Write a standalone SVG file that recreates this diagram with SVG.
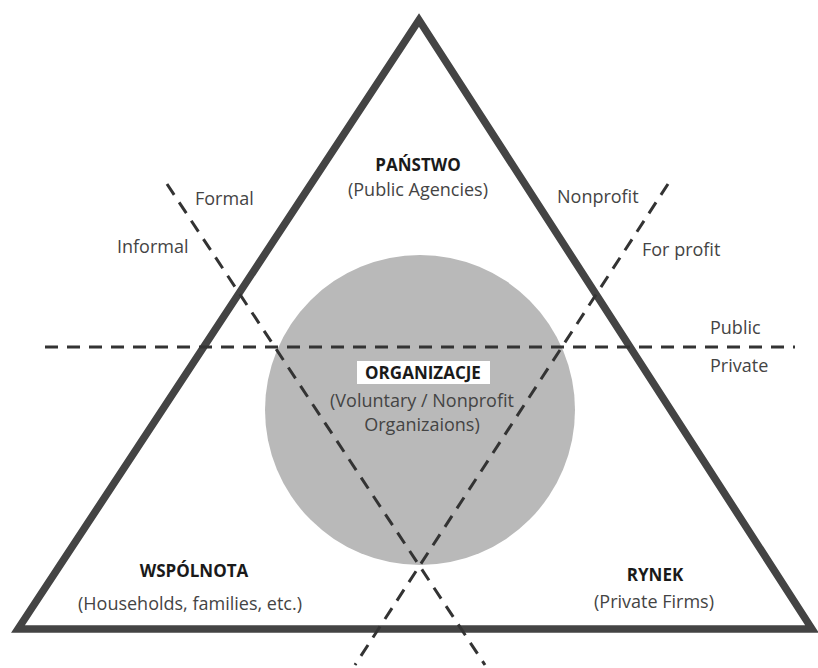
<svg xmlns="http://www.w3.org/2000/svg" width="818" height="668" viewBox="0 0 818 668">
<style>
text{font-family:"Open Sans","Liberation Sans",sans-serif;font-size:18px;fill:#444;}
.b{font-weight:bold;fill:#1a1a1a;font-size:17px;}
.m{text-anchor:middle;}
.d{stroke:#333;stroke-width:3;stroke-dasharray:13 9;fill:none;}
</style>
<rect width="818" height="668" fill="#fff"/>
<g id="circle"><circle cx="420" cy="410" r="155" fill="#b9b9b9"/></g>
<g id="triangle"><polygon points="419,20 18,629 812,629" fill="none" stroke="#444" stroke-width="7.5" stroke-linejoin="miter"/></g>
<g id="connectors">
<line class="d" x1="45" y1="347" x2="795" y2="347"/>
<line class="d" x1="167" y1="184" x2="485" y2="665"/>
<line class="d" x1="668" y1="184" x2="355" y2="665"/>
</g>
<g id="panstwo"><text class="b m" x="418" y="171">PAŃSTWO</text><text class="m" x="418" y="196">(Public Agencies)</text></g>
<g id="formal"><text x="195" y="205">Formal</text></g>
<g id="informal"><text x="117" y="253">Informal</text></g>
<g id="nonprofit"><text x="557" y="203">Nonprofit</text></g>
<g id="forprofit"><text x="642" y="256">For profit</text></g>
<g id="public"><text x="710" y="334">Public</text></g>
<g id="private"><text x="710" y="372">Private</text></g>
<g id="organizacje"><rect x="357" y="361" width="133" height="23" fill="#fff"/><text class="b m" x="423" y="379">ORGANIZACJE</text><text class="m" x="422" y="407">(Voluntary / Nonprofit</text><text class="m" x="422" y="431">Organizaions)</text></g>
<g id="wspolnota"><text class="b m" x="194" y="577">WSPÓLNOTA</text><text class="m" x="190" y="610">(Households, families, etc.)</text></g>
<g id="rynek"><text class="b m" x="655" y="581">RYNEK</text><text class="m" x="654" y="608">(Private Firms)</text></g>
</svg>
